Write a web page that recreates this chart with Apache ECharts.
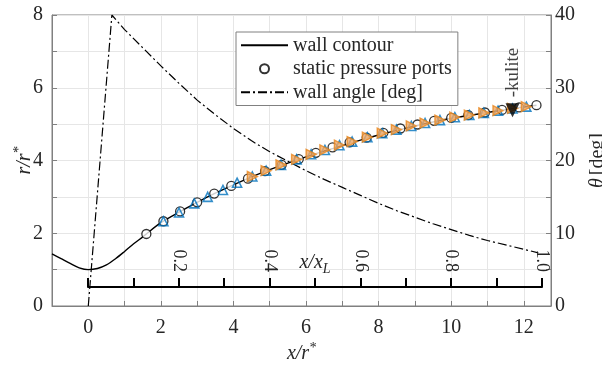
<!DOCTYPE html>
<html>
<head>
<meta charset="utf-8">
<script src="https://cdn.jsdelivr.net/npm/echarts@6/dist/echarts.min.js"></script>
<style>
  html, body { margin: 0; padding: 0; background: #fff; }
  #chart { width: 602px; height: 365px; }
</style>
</head>
<body>
<div id="chart"></div>
<script>
// wall contour r/r* vs x/r*
const contourX = [-1, -0.75, -0.5, -0.25, 0, 0.25, 0.5, 0.75, 1.0, 1.25, 1.5, 2.0, 2.5, 3.0, 3.5, 4.0, 4.5, 5.0, 5.5, 6.0, 6.5, 7.0, 7.5, 8.0, 8.5, 9.0, 9.5, 10.0, 10.5, 11.0, 11.5, 12.0, 12.35];
const contourR = [1.43, 1.3, 1.17, 1.05, 1.0, 1.03, 1.13, 1.3, 1.5, 1.71, 1.9, 2.29, 2.58, 2.85, 3.1, 3.33, 3.55, 3.75, 3.93, 4.1, 4.26, 4.41, 4.56, 4.7, 4.83, 4.95, 5.06, 5.16, 5.24, 5.32, 5.4, 5.47, 5.52];

// wall angle [deg] (right axis)
const angleX = [0, 0.65, 1.0, 1.5, 2.0, 2.5, 3.0, 3.5, 4.0, 4.5, 5.0, 5.5, 6.0, 6.5, 7.0, 7.5, 8.0, 8.5, 9.0, 9.5, 10.0, 10.5, 11.0, 11.5, 12.0, 12.4];
const angleDeg = [0, 40, 38.0, 35.5, 33.0, 30.6, 28.3, 26.3, 24.4, 22.7, 21.2, 19.9, 18.6, 17.4, 16.3, 15.2, 14.1, 13.1, 12.2, 11.3, 10.5, 9.7, 9.0, 8.4, 7.8, 7.3];

// static pressure ports
const portX = [1.6, 2.07, 2.53, 3.0, 3.47, 3.94, 4.4, 4.87, 5.33, 5.8, 6.27, 6.73, 7.2, 7.67, 8.13, 8.6, 9.07, 9.53, 10.0, 10.47, 10.93, 11.4, 11.87, 12.35];
const portR = [1.98, 2.33, 2.6, 2.85, 3.09, 3.3, 3.5, 3.71, 3.88, 4.04, 4.21, 4.36, 4.5, 4.63, 4.76, 4.88, 4.99, 5.09, 5.17, 5.25, 5.32, 5.39, 5.46, 5.52];

// blue up-triangles
const blueX = [2.07, 2.5, 2.92, 3.29, 3.71, 4.1, 4.52, 4.9, 5.31, 5.74, 6.14, 6.52, 6.92, 7.27, 7.69, 8.1, 8.49, 8.9, 9.28, 9.69, 10.1, 10.5, 10.9, 11.29, 11.69, 12.07];
const blueR = [2.33, 2.57, 2.82, 3.0, 3.19, 3.39, 3.56, 3.72, 3.88, 4.03, 4.17, 4.29, 4.42, 4.52, 4.64, 4.75, 4.85, 4.95, 5.03, 5.11, 5.19, 5.25, 5.31, 5.37, 5.43, 5.48];

// orange right-triangles
const orangeX = [4.52, 4.9, 5.31, 5.74, 6.14, 6.52, 6.92, 7.27, 7.69, 8.1, 8.49, 8.9, 9.28, 9.69, 10.1, 10.5, 10.9, 11.29, 11.69, 12.07];
const orangeR = [3.56, 3.72, 3.88, 4.03, 4.17, 4.29, 4.42, 4.52, 4.64, 4.75, 4.85, 4.95, 5.03, 5.11, 5.19, 5.25, 5.31, 5.37, 5.43, 5.48];

// kulite position
const kuliteX = [11.69];
const kuliteR = [5.38];

const serif = "'Liberation Serif', 'DejaVu Serif', serif";
const ink = "#262626";
const axisGray = "#808080";

const zip = (xs, ys) => xs.map((x, i) => [x, ys[i]]);

const chart = echarts.init(document.getElementById("chart"), null, { renderer: "canvas" });

const nameRich = {
  i: { fontFamily: serif, fontStyle: "italic", fontSize: 20, color: ink, lineHeight: 26 },
  n: { fontFamily: serif, fontSize: 20, color: ink, lineHeight: 26 },
  sup: { fontFamily: serif, fontStyle: "italic", fontSize: 14, color: ink, lineHeight: 14, verticalAlign: "top" },
  sub: { fontFamily: serif, fontStyle: "italic", fontSize: 14, color: ink, lineHeight: 14, verticalAlign: "bottom" },
};

const option = {
  animation: false,
  backgroundColor: "#fff",
  textStyle: { fontFamily: serif },
  grid: [
    { left: 52, right: 51, top: 15, bottom: 59, show: true, borderColor: axisGray, borderWidth: 1, backgroundColor: "transparent", outerBoundsMode: "none" },
    { left: 88, width: 454, top: 287, height: 1, outerBoundsMode: "none" },
  ],
  legend: {
    data: [
      { name: "wall contour", itemStyle: { opacity: 0 } },
      { name: "static pressure ports" },
      { name: "wall angle [deg]", itemStyle: { opacity: 0 } },
    ],
    orient: "vertical",
    left: 236,
    top: 32,
    itemWidth: 47,
    itemHeight: 9,
    itemGap: 1,
    padding: [2, 6, 2, 4],
    backgroundColor: "#fff",
    borderColor: axisGray,
    borderWidth: 1,
    borderRadius: 0,
    selectedMode: false,
    textStyle: { fontFamily: serif, fontSize: 20, color: ink, lineHeight: 22.5 },
  },
  xAxis: [
    {
      type: "value", gridIndex: 0, min: -1, max: 12.75, interval: 1,
      name: "{i|x/r}{sup|*}", nameLocation: "middle", nameGap: 35, nameMoveOverlap: false,
      nameTextStyle: { rich: nameRich },
      axisLine: { show: true, onZero: false, lineStyle: { color: axisGray, width: 1 } },
      axisTick: { show: true, inside: true, length: 5, lineStyle: { color: axisGray } },
      axisLabel: {
        fontFamily: serif, fontSize: 20, color: ink, margin: 12,
        formatter: (v) => (v % 2 === 0 ? String(v) : ""),
      },
      splitLine: { show: true, lineStyle: { color: "#e6e6e6", width: 1 } },
    },
    {
      // secondary x/xL scale, drawn as a top axis of a flat grid so ticks point up
      type: "value", gridIndex: 1, min: 0, max: 1, interval: 0.1, position: "top", z: 5,
      name: "{i|x/x}{sub|L}", nameLocation: "middle", nameGap: 11, nameMoveOverlap: false,
      nameTextStyle: { rich: nameRich },
      axisLine: { show: true, onZero: false, lineStyle: { color: "#000", width: 2 } },
      axisTick: { show: true, inside: false, length: 9, lineStyle: { color: "#000", width: 2 } },
      axisLabel: {
        inside: false, rotate: 90, margin: 15,
        fontFamily: serif, fontSize: 18, color: ink,
        formatter: (v) => {
          const k = Math.round(v * 10);
          return k > 0 && k % 2 === 0 ? (k / 10).toFixed(1) : "";
        },
      },
      splitLine: { show: false },
    },
  ],
  yAxis: [
    {
      type: "value", gridIndex: 0, min: 0, max: 8, interval: 1, position: "left",
      name: "{i|r/r}{sup|*}", nameLocation: "middle", nameGap: 14, nameRotate: 90, nameMoveOverlap: false,
      nameTextStyle: { rich: nameRich },
      axisLine: { show: true, onZero: false, lineStyle: { color: axisGray, width: 1 } },
      axisTick: { show: true, inside: true, length: 5, lineStyle: { color: axisGray } },
      axisLabel: {
        fontFamily: serif, fontSize: 20, color: ink, margin: 9,
        formatter: (v) => (v % 2 === 0 ? String(v) : ""),
      },
      splitLine: { show: true, lineStyle: { color: "#e6e6e6", width: 1 } },
    },
    {
      type: "value", gridIndex: 0, min: 0, max: 40, interval: 5, position: "right",
      name: "{i|θ} {n|[deg]}", nameLocation: "middle", nameGap: 34, nameRotate: 90, nameMoveOverlap: false,
      nameTextStyle: { rich: nameRich },
      axisLine: { show: true, onZero: false, lineStyle: { color: axisGray, width: 1 } },
      axisTick: { show: true, inside: true, length: 5, lineStyle: { color: axisGray } },
      axisLabel: {
        fontFamily: serif, fontSize: 20, color: ink, margin: 4,
        formatter: (v) => (v % 10 === 0 ? String(v) : ""),
      },
      splitLine: { show: false },
    },
    { type: "value", gridIndex: 1, min: 0, max: 1, show: false },
  ],
  series: [
    {
      name: "wall contour", type: "line", xAxisIndex: 0, yAxisIndex: 0,
      data: zip(contourX, contourR), smooth: 0.3, symbol: "none",
      lineStyle: { color: "#000", width: 1.4 }, z: 2,
    },
    {
      name: "wall angle [deg]", type: "line", xAxisIndex: 0, yAxisIndex: 1,
      data: zip(angleX, angleDeg), symbol: "none",
      lineStyle: { color: "#000", width: 1.2, type: [9, 3, 2, 3] }, z: 2,
    },
    {
      name: "static pressure ports", type: "scatter", xAxisIndex: 0, yAxisIndex: 0,
      data: zip(portX, portR), symbol: "circle", symbolSize: 9,
      itemStyle: { color: "#fff", borderColor: "#000", borderWidth: 1.3 }, z: 3,
    },
    {
      name: "blue", type: "scatter", xAxisIndex: 0, yAxisIndex: 0,
      data: zip(blueX, blueR), symbol: "triangle", symbolSize: 9,
      itemStyle: { color: "rgba(255,255,255,0)", borderColor: "#0072BD", borderWidth: 1.6 }, z: 4,
    },
    {
      name: "orange", type: "scatter", xAxisIndex: 0, yAxisIndex: 0,
      data: zip(orangeX, orangeR), symbol: "triangle", symbolRotate: -90, symbolSize: 10,
      itemStyle: { color: "#F3A861", borderColor: "#E8871E", borderWidth: 1.4 }, z: 5,
    },
    {
      name: "kulite", type: "scatter", xAxisIndex: 0, yAxisIndex: 0,
      data: zip(kuliteX, kuliteR), symbol: "triangle", symbolRotate: 180, symbolSize: 14,
      itemStyle: { color: "#000" }, z: 6,
      label: {
        show: true, formatter: "-kulite", position: "top", distance: 6,
        rotate: 90, align: "left", verticalAlign: "middle",
        fontFamily: serif, fontSize: 19, color: "#111",
      },
    },
  ],
};

chart.setOption(option);
</script>
</body>
</html>
